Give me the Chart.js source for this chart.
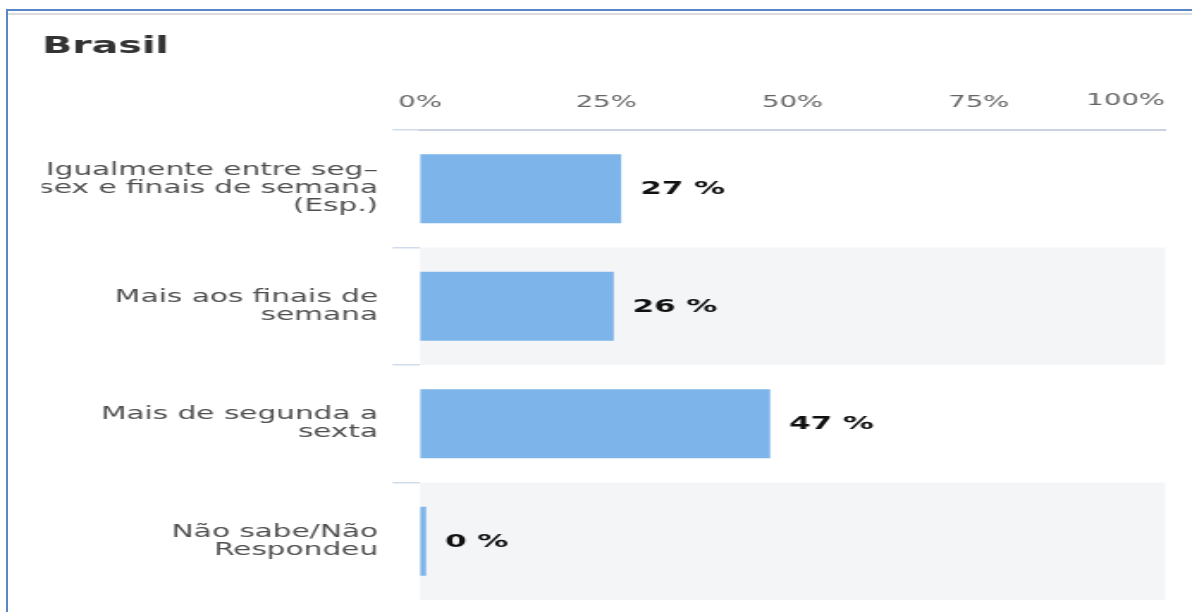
<!DOCTYPE html>
<html lang="pt">
<head>
  <meta charset="UTF-8" />
  <title>Brasil</title>
  <script src="https://cdn.jsdelivr.net/npm/chart.js"></script>
  <style>
    html, body { margin: 0; padding: 0; background: #fff; }
    body { width: 1192px; height: 612px; position: relative; overflow: hidden; }
    .frame-top { position: absolute; left: 6px; top: 9px; right: 0; height: 2px; background: #5a86c5; }
    .frame-left { position: absolute; left: 6px; top: 9px; bottom: 0; width: 2px; background: #5a86c5; }
    .frame-gray { position: absolute; left: 8px; top: 13px; right: 0; height: 2px; background: #dcdcdc; }
    #chart { position: absolute; left: 0; top: 0; }
  </style>
</head>
<body>
  <div class="frame-top"></div>
  <div class="frame-left"></div>
  <div class="frame-gray"></div>
  <!-- o gráfico é desenhado mais estreito e esticado na horizontal, como no original -->
  <canvas id="chart" width="693" height="612" style="width:1192px;height:612px"></canvas>

  <script>
    const categorias = [
      ['Igualmente entre seg–', 'sex e finais de semana', '(Esp.)'],
      ['Mais aos finais de', 'semana'],
      ['Mais de segunda a', 'sexta'],
      ['Não sabe/Não', 'Respondeu']
    ];
    const valores = [27, 26, 47, 0];
    const ticksX = [0, 25, 50, 75, 100];

    const fonte = 'DejaVu Sans';
    const tamTick = 16;
    const padTick = 9.8;

    // faixas cinzentas alternadas atrás das barras
    const faixas = {
      id: 'faixas',
      beforeDatasetsDraw(chart) {
        const { ctx, chartArea, scales: { y } } = chart;
        const meio = (y.getPixelForValue(1) - y.getPixelForValue(0)) / 2;
        ctx.save();
        ctx.fillStyle = '#f4f5f7';
        categorias.forEach((c, i) => {
          if (i % 2 === 1) {
            const yc = y.getPixelForValue(i);
            ctx.fillRect(chartArea.left, yc - meio, chartArea.right - chartArea.left, meio * 2);
          }
        });
        ctx.restore();
      }
    };

    // rótulos "27 %" à direita das barras + o último tick (100%) alinhado à direita
    const rotulos = {
      id: 'rotulos',
      afterDatasetsDraw(chart) {
        const { ctx, scales: { x } } = chart;
        const meta = chart.getDatasetMeta(0);
        ctx.save();
        ctx.font = 'bold 18px ' + fonte;
        ctx.fillStyle = '#111';
        ctx.textAlign = 'left';
        ctx.textBaseline = 'middle';
        meta.data.forEach((bar, i) => {
          ctx.fillText(valores[i] + ' %', bar.x + 11, bar.y + 1);
        });

        const ultimo = ticksX[ticksX.length - 1];
        ctx.font = tamTick + 'px ' + fonte;
        ctx.fillStyle = '#666';
        ctx.textAlign = 'right';
        ctx.fillText(ultimo + '%', x.getPixelForValue(ultimo), x.bottom - padTick - tamTick * 1.2);
        ctx.restore();
      }
    };

    new Chart(document.getElementById('chart'), {
      type: 'bar',
      data: {
        labels: categorias,
        datasets: [{
          data: valores,
          backgroundColor: '#7db4ea',
          borderWidth: 0,
          categoryPercentage: 1,
          barPercentage: 0.587,
          minBarLength: 3.5
        }]
      },
      options: {
        indexAxis: 'y',
        responsive: false,
        devicePixelRatio: 1,
        animation: false,
        layout: { padding: { left: 24.4, right: 15.7, top: 0, bottom: 12 } },
        plugins: {
          legend: { display: false },
          tooltip: { enabled: false },
          title: {
            display: true,
            text: 'Brasil',
            align: 'start',
            color: '#333',
            font: { family: fonte, size: 23, weight: 'bold' },
            padding: { top: 33, bottom: 0 }
          }
        },
        scales: {
          x: {
            type: 'linear',
            position: 'top',
            min: 0,
            max: 100,
            afterBuildTicks: s => { s.ticks = ticksX.map(v => ({ value: v })); },
            grid: { display: false },
            border: { display: true, color: '#c9d3e4', width: 2 },
            ticks: {
              padding: padTick,
              color: '#666',
              font: { family: fonte, size: tamTick },
              callback: v => v === ticksX[ticksX.length - 1] ? '' : v + '%'
            },
            afterFit: s => { s.height = 69.4; s.paddingRight = 0; }
          },
          y: {
            grid: {
              offset: true,
              drawOnChartArea: false,
              drawTicks: true,
              tickLength: 16,
              lineWidth: 1.5,
              color: c => c.tick ? '#d0dcec' : 'rgba(0,0,0,0)'
            },
            border: { display: false },
            ticks: {
              padding: 8.4,
              color: '#4f4f4f',
              font: { family: fonte, size: 17.2, lineHeight: 1.06 }
            },
            afterFit: s => { s.width = 219.8; s.paddingTop = 0; s.paddingBottom = 0; }
          }
        }
      },
      plugins: [faixas, rotulos]
    });
  </script>
</body>
</html>
